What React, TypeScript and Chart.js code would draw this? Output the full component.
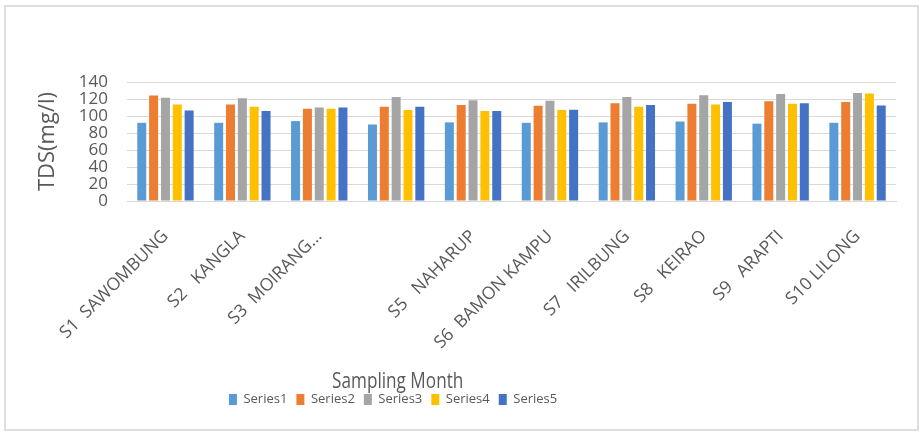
import { useEffect, useRef } from 'react';
import { Chart, registerables } from 'chart.js';

Chart.register(...registerables);

const categories = [
  'S1  SAWOMBUNG',
  'S2   KANGLA',
  'S3  MOIRANG...',
  '',
  'S5   NAHARUP',
  'S6  BAMON KAMPU',
  'S7   IRILBUNG',
  'S8   KEIRAO',
  'S9   ARAPTI',
  'S10 LILONG',
];

const seriesNames = ['Series1', 'Series2', 'Series3', 'Series4', 'Series5'];

const series1 = [92, 92, 94, 90, 92.5, 92, 92.5, 93.5, 91, 92];
const series2 = [124, 113.5, 108.5, 111, 113, 112, 115, 114.5, 117.5, 116.5];
const series3 = [121.5, 121, 110, 122.5, 118.5, 118, 122.5, 124.5, 126, 127];
const series4 = [113.5, 111, 108.5, 107, 106, 107, 111, 113.5, 114.5, 126.5];
const series5 = [106.5, 106, 110, 111, 106, 107.5, 113, 116.5, 115, 112.5];

const seriesColors = ['#5B9BD5', '#ED7D31', '#A5A5A5', '#FFC000', '#4472C4'];

const yMin = 0;
const yMax = 140;
const yStep = 20;

const xTitle = 'Sampling Month';
const yTitle = 'TDS(mg/l)';

const TEXT = '#595959';
const GRID = '#D9D9D9';
const FONT = "'Open Sans', sans-serif";

const xTitlePlugin = {
  id: 'xTitleCustom',
  afterDraw(chart: any) {
    const { ctx, chartArea } = chart;
    ctx.save();
    ctx.font = `22px ${FONT}`;
    ctx.fillStyle = TEXT;
    ctx.textAlign = 'center';
    ctx.textBaseline = 'alphabetic';
    ctx.translate(chartArea.left + chartArea.width * 0.352, 388);
    ctx.scale(0.78, 1);
    ctx.fillText(xTitle, 0, 0);
    ctx.restore();
  },
};

const legendShiftPlugin = {
  id: 'legendShift',
  afterLayout(chart: any) {
    const lg = chart.legend;
    if (!lg) return;
    const { chartArea } = chart;
    const target = chartArea.left + chartArea.width * 0.346;
    const dx = target - (lg.left + lg.right) / 2;
    lg.left += dx;
    lg.right += dx;
  },
};

export default function App() {
  const ref = useRef<HTMLCanvasElement | null>(null);

  useEffect(() => {
    if (!ref.current) return;
    const all = [series1, series2, series3, series4, series5];
    const chart = new Chart(ref.current, {
      type: 'bar',
      data: {
        labels: categories,
        datasets: all.map((d, i) => ({
          label: seriesNames[i],
          data: d,
          backgroundColor: seriesColors[i],
          borderWidth: 0,
          barPercentage: 0.76,
          categoryPercentage: 0.77,
        })),
      },
      plugins: [xTitlePlugin, legendShiftPlugin],
      options: {
        responsive: false,
        animation: false,
        layout: { padding: { left: 0, right: 26, top: 82, bottom: 18 } },
        plugins: {
          legend: {
            position: 'bottom',
            labels: {
              boxWidth: 8,
              boxHeight: 11,
              padding: 9,
              color: TEXT,
              font: { size: 13, family: FONT },
            },
          },
          tooltip: { enabled: false },
          title: { display: false },
        },
        scales: {
          x: {
            grid: { display: false, drawTicks: false },
            border: { display: true, color: GRID, width: 1 },
            ticks: {
              autoSkip: false,
              minRotation: 45,
              maxRotation: 45,
              padding: 25,
              color: TEXT,
              font: { size: 17.5, family: FONT },
            },
            afterFit: (scale: any) => {
              scale.height = 183;
            },
          },
          y: {
            min: yMin,
            max: yMax,
            grid: { color: GRID, lineWidth: 1, drawTicks: false },
            border: { display: false },
            ticks: {
              stepSize: yStep,
              autoSkip: false,
              padding: 19,
              color: TEXT,
              font: { size: 17, family: FONT },
            },
            title: {
              display: true,
              text: yTitle,
              color: TEXT,
              font: { size: 22, family: FONT },
              padding: { top: 35, bottom: 0 },
            },
            afterFit: (scale: any) => {
              scale.width = 127;
            },
          },
        },
      },
    } as any);
    return () => chart.destroy();
  }, []);

  return (
    <div
      style={{
        position: 'fixed',
        left: 0,
        top: 0,
        width: 922,
        height: 434,
        background: '#fff',
      }}
    >
      <canvas ref={ref} width={922} height={434} style={{ display: 'block' }} />
      <div
        style={{
          position: 'absolute',
          left: 4,
          top: 5,
          width: 915,
          height: 426,
          border: '2px solid #DEDEDE',
          boxSizing: 'border-box',
          pointerEvents: 'none',
        }}
      />
    </div>
  );
}
